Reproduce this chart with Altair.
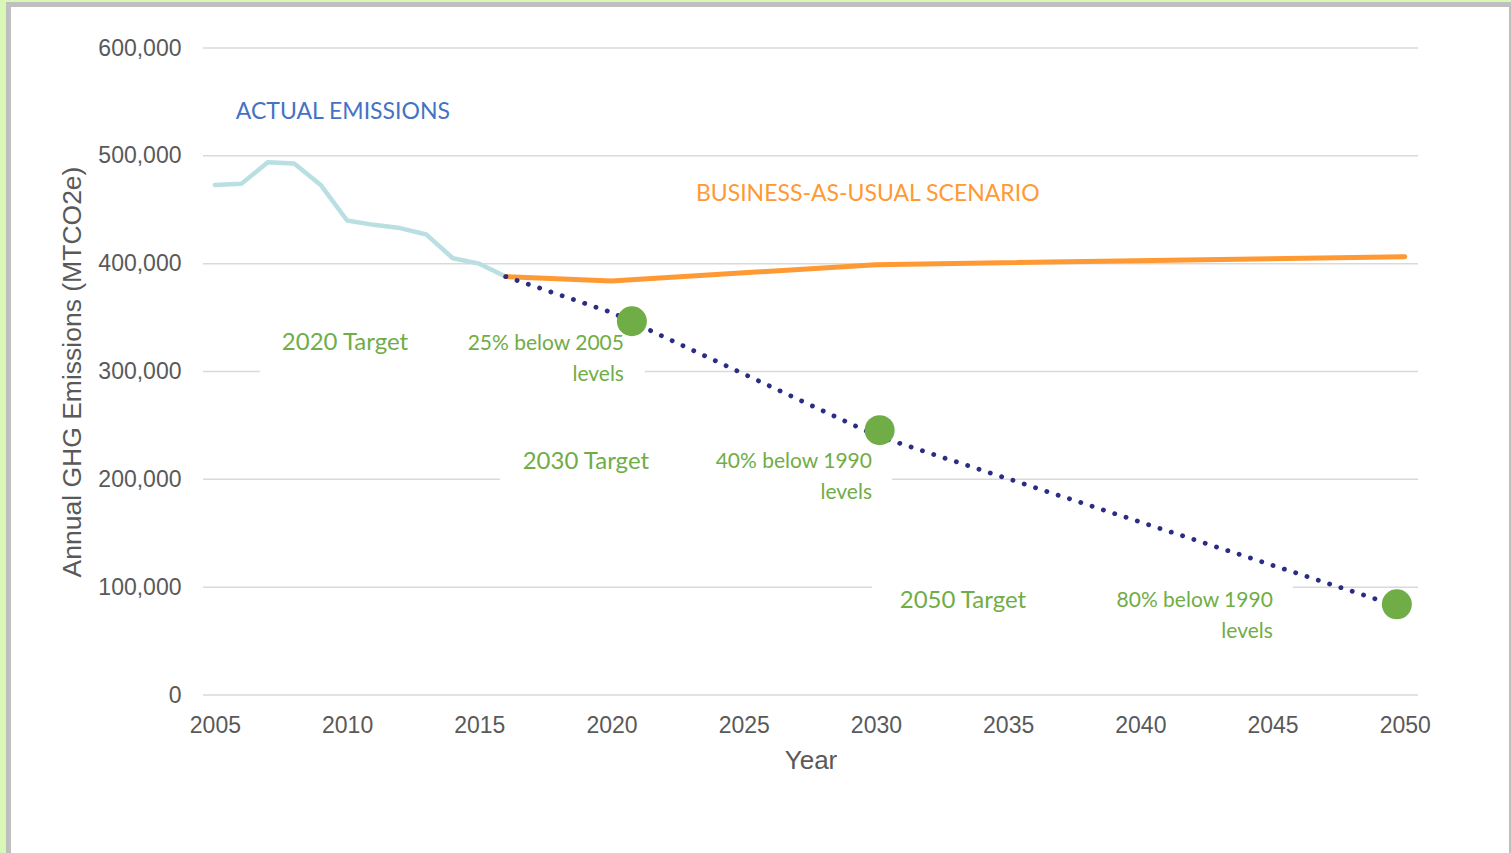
import altair as alt
import pandas as pd

# ---- data ----
actual_years = [2005, 2006, 2007, 2008, 2009, 2010, 2011, 2012, 2013, 2014, 2015, 2016]
actual_values = [473000, 474000, 494000, 493000, 473000, 440000, 436000, 433000, 427000, 405000, 400000, 388000]

bau_years = [2016, 2020, 2030, 2050]
bau_values = [388000, 384000, 399000, 406500]

target_years = [2016, 2020, 2030, 2050]
target_values = [388000, 354750, 240600, 80200]

marker_years = [2020.77, 2030.14, 2049.70]
marker_values = [346600, 245600, 84100]

x_ticks = [2005, 2010, 2015, 2020, 2025, 2030, 2035, 2040, 2045, 2050]
y_ticks = [0, 100000, 200000, 300000, 400000, 500000, 600000]

series_text = ["ACTUAL EMISSIONS", "BUSINESS-AS-USUAL SCENARIO"]
series_text_year = [2009.84, 2029.69]
series_text_value = [540650, 464610]
series_text_color = ["#4472c4", "#ff9933"]

target_text = ["2020 Target", "2030 Target", "2050 Target"]
target_text_year = [2009.92, 2019.03, 2033.29]
target_text_value = [326430, 216070, 87170]

desc_text = ["25% below 2005", "levels", "40% below 1990", "levels", "80% below 1990", "levels"]
desc_text_year = [2020.47, 2020.47, 2029.85, 2029.85, 2045.01, 2045.01]
desc_text_value = [325500, 296750, 216070, 187330, 87170, 58420]

# white label boxes (hide gridlines behind the text boxes)
box_x0 = [2006.70, 2015.78, 2029.85]
box_x1 = [2021.26, 2030.61, 2045.77]
box_y0 = [281000, 171560, 46370]
box_y1 = [338500, 229990, 111280]

# ---- scales ----
xs = alt.Scale(domain=[2004.55, 2050.5], nice=False, zero=False)
ys = alt.Scale(domain=[0, 600000], nice=False)

GREEN = "#70ad47"

frame = alt.Chart(pd.DataFrame({"a": [0]})).mark_rect(
    fill="white", stroke="#bfbfbf", strokeWidth=5
).encode(
    x=alt.value(-194.5), x2=alt.value(1308.5), y=alt.value(-43.5), y2=alt.value(830)
)

grid = alt.Chart(pd.DataFrame({"v": y_ticks})).mark_rule(
    color="#d9d9d9", strokeWidth=1.5
).encode(y=alt.Y("v:Q", scale=ys))

boxes = alt.Chart(pd.DataFrame({"x0": box_x0, "x1": box_x1, "y0": box_y0, "y1": box_y1})).mark_rect(
    fill="white"
).encode(
    x=alt.X("x0:Q", scale=xs), x2="x1:Q", y=alt.Y("y0:Q", scale=ys), y2="y1:Q"
)

actual = alt.Chart(pd.DataFrame({"year": actual_years, "value": actual_values})).mark_line(
    color="#b9dfe2", strokeWidth=4.5, strokeCap="round", strokeJoin="round"
).encode(
    x=alt.X("year:Q", scale=xs,
            axis=alt.Axis(values=x_ticks, format="d", grid=False, ticks=False, tickSize=0, domain=False,
                          labelFont="Liberation Sans", labelFontSize=23, labelColor="#595959",
                          labelPadding=19, title="Year", titleFont="Liberation Sans",
                          titleFontSize=26, titleColor="#595959", titleFontWeight="normal",
                          titleY=65, titleBaseline="middle", zindex=1)),
    y=alt.Y("value:Q", scale=ys,
            axis=alt.Axis(values=y_ticks, format=",.0f", grid=False, ticks=False, tickSize=0, domain=False,
                          labelFont="Liberation Sans", labelFontSize=23, labelColor="#595959",
                          labelPadding=22, title="Annual GHG Emissions (MTCO2e)",
                          titleFont="Liberation Sans", titleFontSize=26.5, titleColor="#595959",
                          titleFontWeight="normal", titleX=-131, titleY=323.5,
                          titleBaseline="middle", zindex=1)),
)

bau = alt.Chart(pd.DataFrame({"year": bau_years, "value": bau_values})).mark_line(
    color="#ff9933", strokeWidth=5, strokeCap="round", strokeJoin="round"
).encode(x=alt.X("year:Q", scale=xs), y=alt.Y("value:Q", scale=ys))

target = alt.Chart(pd.DataFrame({"year": target_years, "value": target_values})).mark_line(
    color="#2b2d84", strokeWidth=4.8, strokeCap="round", strokeDash=[0.1, 11.8]
).encode(x=alt.X("year:Q", scale=xs), y=alt.Y("value:Q", scale=ys))

markers = alt.Chart(pd.DataFrame({"year": marker_years, "value": marker_values})).mark_circle(
    color=GREEN, size=900, opacity=1
).encode(x=alt.X("year:Q", scale=xs), y=alt.Y("value:Q", scale=ys))

series_lbl = alt.Chart(pd.DataFrame({"t": series_text, "year": series_text_year,
                                     "value": series_text_value, "c": series_text_color})).mark_text(
    font="Lato", fontSize=23, align="center", baseline="middle"
).encode(x=alt.X("year:Q", scale=xs), y=alt.Y("value:Q", scale=ys), text="t:N",
         color=alt.Color("c:N", scale=None))

target_lbl = alt.Chart(pd.DataFrame({"t": target_text, "year": target_text_year,
                                     "value": target_text_value})).mark_text(
    font="Lato", fontSize=24, align="center", baseline="middle", color=GREEN
).encode(x=alt.X("year:Q", scale=xs), y=alt.Y("value:Q", scale=ys), text="t:N")

desc_lbl = alt.Chart(pd.DataFrame({"t": desc_text, "year": desc_text_year,
                                   "value": desc_text_value})).mark_text(
    font="Lato", fontSize=21, align="right", baseline="middle", color=GREEN
).encode(x=alt.X("year:Q", scale=xs), y=alt.Y("value:Q", scale=ys), text="t:N")

chart = alt.layer(
    frame, grid, boxes, actual, bau, target, markers, series_lbl, target_lbl, desc_lbl
).properties(
    width=1215, height=647,
    autosize=alt.AutoSizeParams(type="none"),
    padding={"left": 203, "top": 48, "right": 93, "bottom": 158},
    background="#d9f7b6",
).configure_view(stroke=None)

chart.save("out.html", embed_options={"renderer": "svg", "actions": False})
